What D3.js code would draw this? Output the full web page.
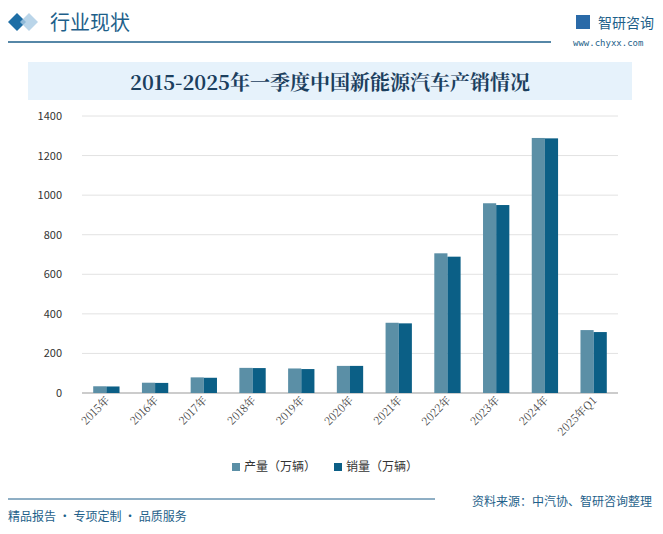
<!DOCTYPE html>
<html><head><meta charset="utf-8">
<script src="https://cdn.jsdelivr.net/npm/d3@7"></script>
<style>body{margin:0;background:#fff;font-family:"Noto Sans CJK SC","Noto Sans",sans-serif}</style>
</head><body><svg width="663" height="534"></svg>
<script>
const years = ['2015年','2016年','2017年','2018年','2019年','2020年','2021年','2022年','2023年','2024年','2025年Q1']
const production = [34, 52, 79, 127, 124, 137, 355, 706, 959, 1289, 318]
const sales = [33, 51, 77, 126, 121, 137, 352, 689, 950, 1287, 308]
const yTicks = [0, 200, 400, 600, 800, 1000, 1200, 1400]
const seriesNames = ['产量（万辆）', '销量（万辆）']
const colors = ['#5b8fa6', '#0b5f86']

const svg = d3.select('svg')

// header
svg.append('path').attr('d', 'M8,22 L17,13 L26,22 L17,31 Z').attr('fill', '#1e6ea5')
svg.append('path').attr('d', 'M20,22 L29,13 L38,22 L29,31 Z').attr('fill', '#a9cbe4').attr('opacity', 0.8)
svg.append('text').attr('x', 50).attr('y', 30).attr('font-size', 20).attr('fill', '#1e5f8a').text('行业现状')
svg.append('line').attr('x1', 8).attr('x2', 551).attr('y1', 42).attr('y2', 42).attr('stroke', '#1e5f8a').attr('stroke-width', 1.5)
svg.append('text').attr('x', 598).attr('y', 28).attr('font-size', 14).attr('fill', '#1e5f8a').text('智研咨询')
svg.append('rect').attr('x', 576).attr('y', 15).attr('width', 14).attr('height', 14).attr('fill', '#2a6aa8')
svg.append('text').attr('x', 573).attr('y', 46).attr('font-size', 9).attr('fill', '#1e5f8a').attr('font-family', 'DejaVu Sans Mono').text('www.chyxx.com')

svg.append('rect').attr('x', 28).attr('y', 62).attr('width', 604).attr('height', 38).attr('fill', '#e6f2fb')
svg.append('text').attr('x', 330).attr('y', 90).attr('text-anchor', 'middle').attr('font-size', 20).attr('font-weight', 'bold')
  .attr('font-family', '"Noto Serif CJK SC","Noto Sans CJK SC",serif').attr('fill', '#1c3f5e').text('2015-2025年一季度中国新能源汽车产销情况')

// chart
const m = { left: 82, right: 618, top: 116, bottom: 393 }
const x = d3.scaleBand().domain(years).range([m.left, m.right]).paddingInner(0.46).paddingOuter(0.23)
const xs = d3.scaleBand().domain([0, 1]).range([0, x.bandwidth()])
const y = d3.scaleLinear().domain([0, 1400]).range([m.bottom, m.top])

svg.append('g').selectAll('line').data(yTicks).join('line')
  .attr('x1', m.left).attr('x2', m.right).attr('y1', d => y(d)).attr('y2', d => y(d))
  .attr('stroke', d => d === 0 ? '#999' : '#e2e2e2')

svg.append('g').selectAll('text').data(yTicks).join('text')
  .attr('x', 62).attr('y', d => y(d) + 4).attr('text-anchor', 'end').attr('font-size', 11).attr('fill', '#333').text(d => d)

const series = [production, sales]
series.forEach((vals, i) => {
  svg.append('g').selectAll('rect').data(vals).join('rect')
    .attr('x', (d, j) => x(years[j]) + xs(i))
    .attr('y', d => y(d)).attr('width', xs.bandwidth()).attr('height', d => y(0) - y(d))
    .attr('fill', colors[i])
})

svg.append('g').selectAll('text').data(years).join('text')
  .attr('transform', d => `translate(${x(d) + x.bandwidth() / 2 + 4},${m.bottom + 8}) rotate(-45)`)
  .attr('text-anchor', 'end').attr('font-size', 11).attr('fill', '#444')
  .attr('font-family', '"Noto Serif CJK SC",serif').text(d => d)

// legend
const lg = svg.append('g').attr('transform', 'translate(232,468)')
seriesNames.forEach((n, i) => {
  const g = lg.append('g').attr('transform', `translate(${i * 102},0)`)
  g.append('rect').attr('x', 0).attr('y', -5).attr('width', 8).attr('height', 8).attr('fill', colors[i])
  g.append('text').attr('x', 12).attr('y', 3).attr('font-size', 12).attr('fill', '#333').text(n)
})

// footer
svg.append('line').attr('x1', 8).attr('x2', 435).attr('y1', 499).attr('y2', 499).attr('stroke', '#1e5f8a')
svg.append('text').attr('x', 8).attr('y', 521).attr('font-size', 12).attr('fill', '#1e5f8a').text('精品报告 · 专项定制 · 品质服务')
svg.append('text').attr('x', 652).attr('y', 506).attr('text-anchor', 'end').attr('font-size', 12).attr('fill', '#1e5f8a').text('资料来源：中汽协、智研咨询整理')
</script></body></html>
